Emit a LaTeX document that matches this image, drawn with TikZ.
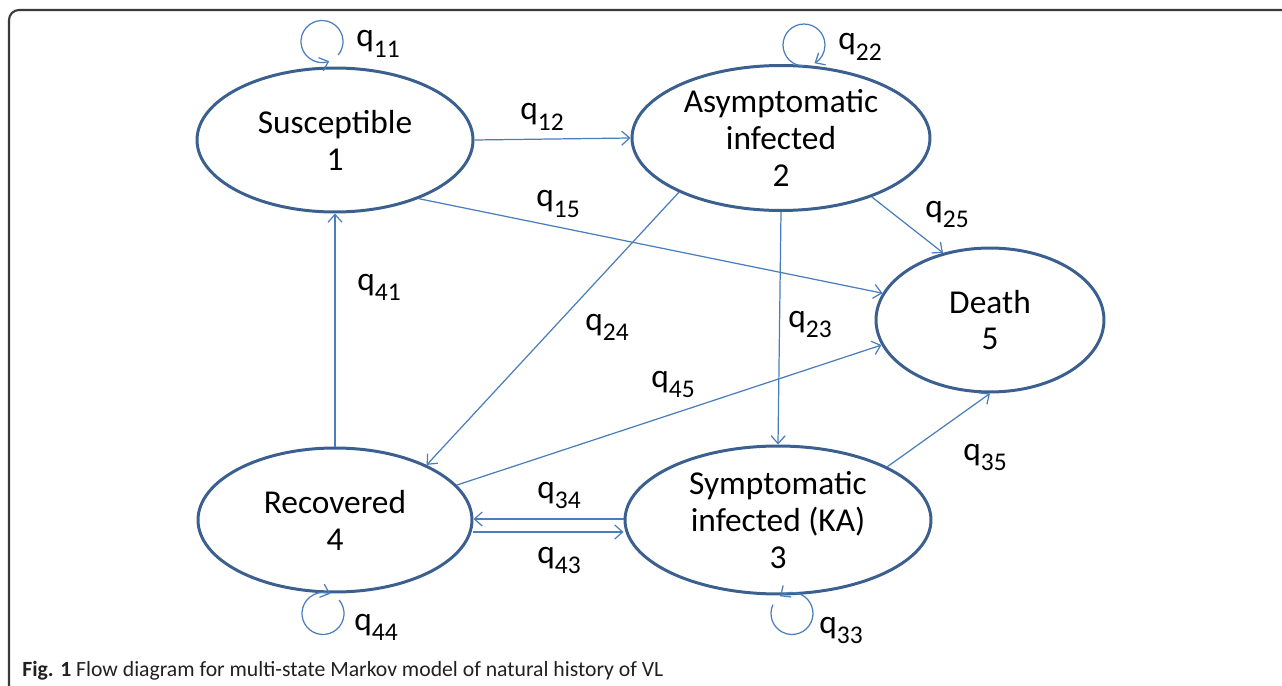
\documentclass[tikz,border=0pt]{standalone}
\usepackage{fontspec}
\setmainfont{Carlito}
\usepackage{tikz}
\usetikzlibrary{arrows.meta,shapes.geometric}
\definecolor{edgeblue}{HTML}{3B5F8F}
\definecolor{lineblue}{HTML}{4A7EBB}
\definecolor{framegray}{HTML}{3A3A3A}
\definecolor{capgray}{HTML}{231F20}
\tikzstyle{state} = [ellipse, draw=edgeblue, line width=1.7pt, inner sep=0pt, align=center, font=\fontsize{19}{21}\selectfont]
\tikzstyle{arrow} = [-{Straight Barb[length=4.5pt,width=8pt]}, draw=lineblue, line width=0.7pt]
\tikzstyle{rate} = [anchor=base west, inner sep=0pt, font=\fontsize{19}{21}\selectfont]
\newcommand{\qsub}[1]{q\raisebox{-6pt}{\fontsize{14.5}{15}\selectfont #1}}

\begin{document}
\begin{tikzpicture}[x=0.02cm, y=-0.02cm]
		\useasboundingbox (0,0) rectangle (1282,686);
		\draw [framegray, line width=1.2pt, rounded corners=0.2cm] (9,720) -- (9,10) -- (1320,10);

		\node (sus) [state, minimum width=5.52cm, minimum height=2.88cm] at (335,140) {Susceptible\\1};
		\node (asy) [state, minimum width=5.96cm, minimum height=2.9cm] at (781,138) {Asymptomatic\\infected\\2};
		\node (death) [state, minimum width=4.56cm, minimum height=2.88cm] at (990,320) {Death\\5};
		\node (rec) [state, minimum width=5.48cm, minimum height=2.88cm] at (335,520) {Recovered\\4};
		\node (sym) [state, minimum width=6.12cm, minimum height=2.96cm] at (778,520) {Symptomatic\\infected (KA)\\3};

		\draw [arrow] (sus.east) -- (asy.west);
		\draw [arrow] (sus.-35) -- (death.166);
		\draw [arrow] (asy.-33) -- (death.125);
		\draw [arrow] (asy.south) -- (sym.north);
		\draw [arrow] (asy.208) -- (rec.31);
		\draw [arrow] (rec.north) -- (sus.south);
		\draw [arrow] (rec.16.5) -- (death.193);
		\draw [arrow] (sym.26.6) -- (death.south);
		\draw [arrow] ([yshift=0.02cm]sym.west) -- ([yshift=0.02cm]rec.east);
		\draw [arrow] ([yshift=-0.24cm]rec.east) -- ([yshift=-0.24cm]sym.west);

		% self loops
		\draw [arrow] ([shift={(-13,-25)}]sus.north) ++(-40:0.42cm) arc[start angle=-40, end angle=290, radius=0.42cm];
		\draw [arrow] ([shift={(23,-19)}]asy.north) ++(270:0.42cm) arc[start angle=270, end angle=-60, radius=0.42cm];
		\draw [arrow] ([shift={(14,18)}]sym.south) ++(-205:0.42cm) arc[start angle=-205, end angle=125, radius=0.42cm];
		\draw [arrow] ([shift={(-12,20)}]rec.south) ++(400:0.42cm) arc[start angle=400, end angle=70, radius=0.42cm];

		\node (q11) [rate] at (356,47) {\qsub{11}};
		\node (q22) [rate] at (838,50) {\qsub{22}};
		\node (q12) [rate] at (520,120) {\qsub{12}};
		\node (q15) [rate] at (536,207) {\qsub{15}};
		\node (q25) [rate] at (925,217) {\qsub{25}};
		\node (q41) [rate] at (357,290) {\qsub{41}};
		\node (q24) [rate] at (585,330) {\qsub{24}};
		\node (q23) [rate] at (788,327) {\qsub{23}};
		\node (q45) [rate] at (651,387) {\qsub{45}};
		\node (q35) [rate] at (963,460) {\qsub{35}};
		\node (q34) [rate] at (537,498) {\qsub{34}};
		\node (q43) [rate] at (537,563) {\qsub{43}};
		\node (q44) [rate] at (354,630) {\qsub{44}};
		\node (q33) [rate] at (819,633) {\qsub{33}};

		\node (caption) [anchor=base west, inner sep=0pt, text=capgray, font=\fontsize{12.35}{14}\selectfont] at (22,676) {\textbf{Fig. 1} Flow diagram for multi-state Markov model of natural history of VL};
	\end{tikzpicture}
\end{document}
